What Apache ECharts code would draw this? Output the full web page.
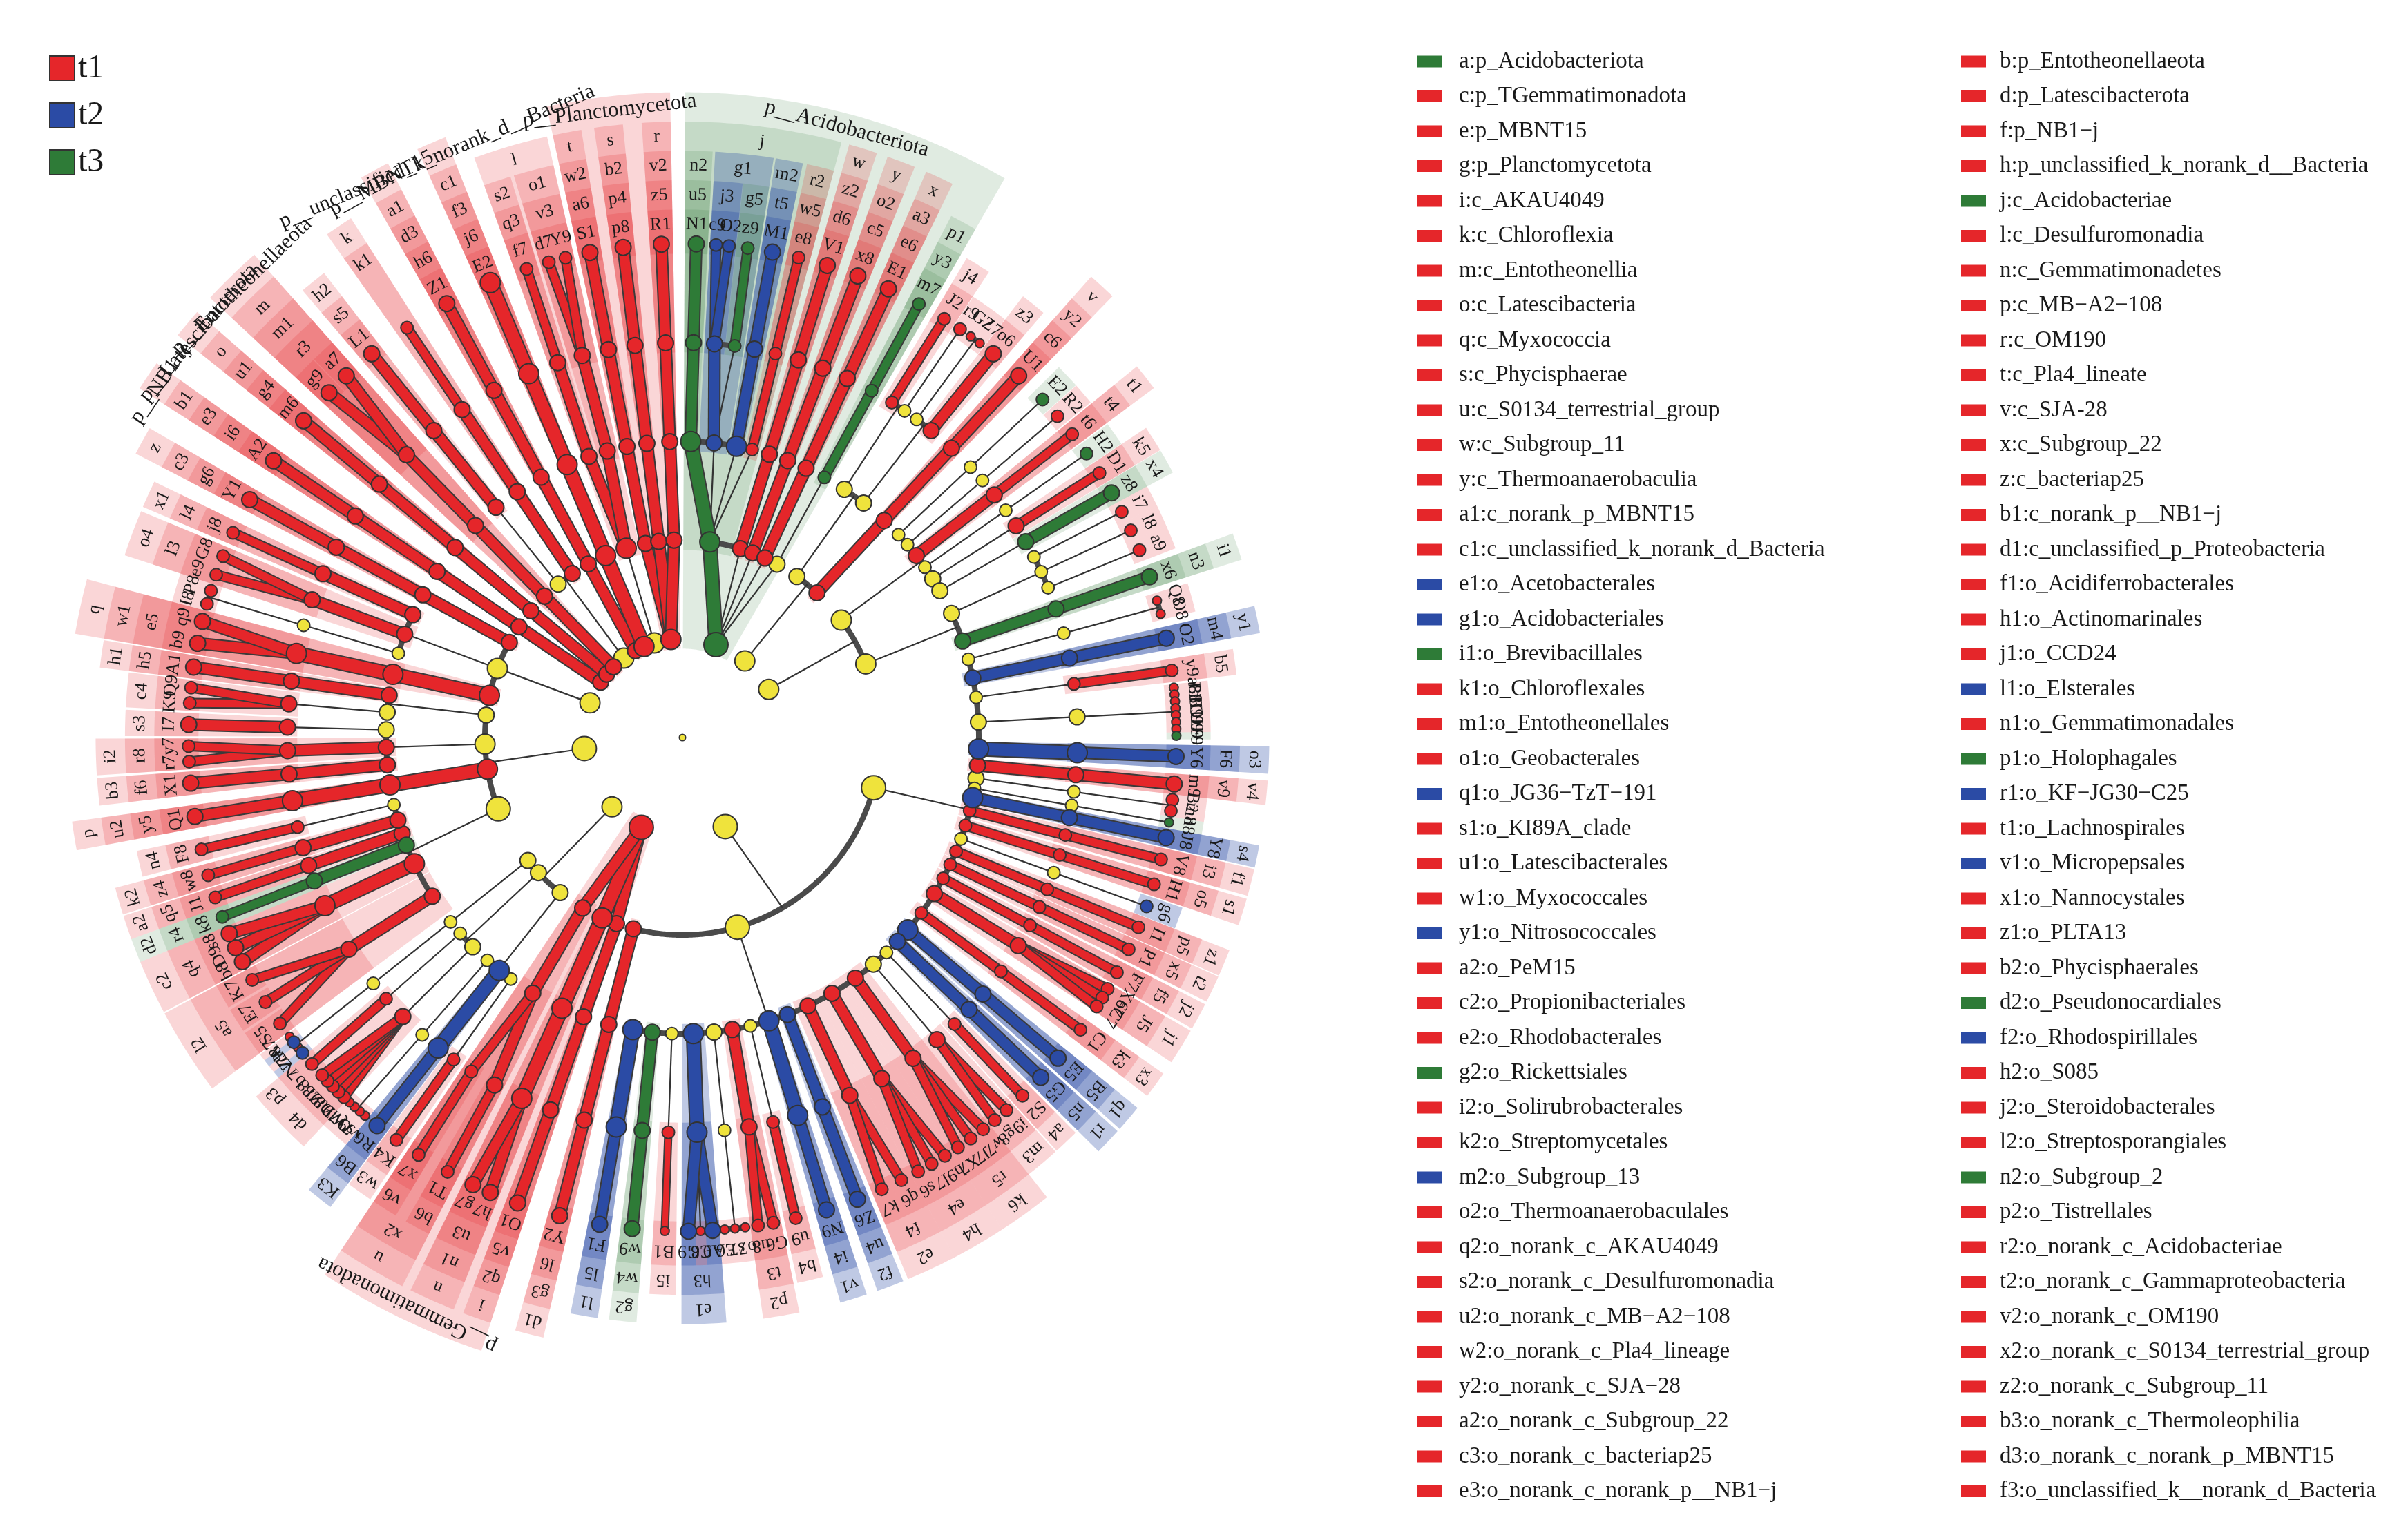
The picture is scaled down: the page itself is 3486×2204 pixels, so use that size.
<!DOCTYPE html>
<html><head><meta charset="utf-8">
<script src="https://cdn.jsdelivr.net/npm/echarts/dist/echarts.min.js"></script>
<style>html,body{margin:0;padding:0;background:#fff}#c{width:3486px;height:2204px}</style>
</head><body><div id="c"></div>
<script>
// ---------------- DATA ----------------
// groups: 0 = not significant, 1 = t1, 2 = t2, 3 = t3
const groupNames = ['ns', 't1', 't2', 't3'];
// cladogram, depth-first: [level, group, label, abundance class, taxa count (tips only)]
const tree = [
 [1,3,'p__Acidobacteriota',5],
  [2,3,'j',4],
   [3,3,'n2',4],[4,3,'u5',3],[5,3,'N1',3,3.2],
   [3,2,'g1',3],[4,2,'j3',3],[5,2,'c9',2,1.4],[5,2,'O2',2,1.6],[4,3,'g5',2],[5,3,'z9',2,2.8],
   [3,2,'m2',4],[4,2,'t5',3],[5,2,'M1',3,3.0],
   [3,1,'r2',2],[4,1,'w5',2],[5,1,'e8',2,3.2],
  [2,1,'w',3],[3,1,'z2',3],[4,1,'d6',3],[5,1,'V1',3,3.7],
  [2,1,'y',3],[3,1,'o2',3],[4,1,'c5',3],[5,1,'x8',3,3.8],
  [2,1,'x',3],[3,1,'a3',3],[4,1,'e6',3],[5,1,'E1',3,3.9],
  [2,0,'',3],[3,3,'p1',2],[4,3,'y3',2],[5,3,'m7',2,4.0],
 [1,0,'',4],
  [2,0,'',3],
   [3,0,'',3],[4,1,'j4',2],[5,1,'J2',2,2.8],[4,0,'',2],[5,1,'r9',2,1.6],
   [3,0,'',3],[4,0,'',2],[5,1,'G2',1,1.4],[5,1,'Z7',1,1.2],[4,1,'z3',3],[5,1,'o6',3,2.8],
  [2,1,'v',3],[3,1,'y2',3],[4,1,'c6',3],[5,1,'U1',3,5.0],
 [1,0,'',4],
  [2,0,'',4],
   [3,0,'',2],[4,0,'',2],[5,3,'E2',2,2.8],
   [3,0,'',2],[4,0,'',2],[5,1,'R2',2,2.4],
   [3,1,'t1',3],[4,1,'t4',3],[5,1,'t6',2,3.0],
   [3,0,'',2],[4,0,'',2],[5,3,'H2',2,2.6],
   [3,0,'',3],[4,1,'k5',3],[5,1,'D1',2,2.8],
   [3,0,'',3],[4,3,'x4',3],[5,3,'z8',3,2.6],
  [2,0,'',4],
   [3,0,'',3],[4,0,'',2],[5,1,'i7',2,2.4],[4,0,'',2],[5,1,'l8',2,2.4],[4,0,'',2],[5,1,'a9',2,2.6],
   [3,3,'i1',3],[4,3,'n3',3],[5,3,'x6',3,4.0],
 [1,0,'',5],
  [2,0,'',5],
   [3,0,'',2],[4,0,'',2],[5,1,'Q8',1,1.8],[5,1,'O8',1,1.4],
   [3,2,'y1',3],[4,2,'m4',3],[5,2,'O2',3,4.4],
   [3,0,'',2],[4,1,'b5',2],[5,1,'y9',2,3.2],
   [3,0,'',3],[4,0,'',3],[5,1,'a8',1,0.8],[5,1,'B8',1,0.8],[5,1,'i8',1,0.8],[5,1,'H9',1,0.8],[5,1,'C9',1,0.8],[5,1,'U9',1,0.8],[5,1,'L9',1,0.8],[5,3,'F9',1,0.8],
   [3,2,'o3',4],[4,2,'F6',4],[5,2,'Y6',3,4.0],
   [3,1,'v4',3],[4,1,'v9',3],[5,1,'m9',3,2.4],
   [3,0,'',3],[4,0,'',2],[5,1,'B2',2,1.3],[5,1,'m8',2,1.3],
   [3,0,'',2],[4,0,'',2],[5,3,'n8',1,1.4],
   [3,2,'s4',4],[4,2,'Y8',3],[5,2,'J8',3,2.2],
   [3,1,'f1',2],[4,1,'i3',2],[5,1,'V8',2,3.0],
   [3,1,'s1',2],[4,1,'o5',2],[5,1,'H1',2,3.0],
   [3,0,'',2],[4,0,'',2],[5,2,'g6',2,2.4],
   [3,1,'z1',2],[4,1,'p5',2],[5,1,'I1',2,2.8],
   [3,1,'t2',2],[4,1,'x5',2],[5,1,'P1',2,2.8],
   [3,1,'j2',2],[4,1,'f5',2],[5,1,'F7',2,3.2],
   [3,1,'j1',3],[4,1,'J5',3],[5,1,'X6',2,1.2],[5,1,'e7',2,1.2],[5,1,'C7',2,1.2],
   [3,1,'x3',2],[4,1,'k3',2],[5,1,'C1',2,5.4],
   [3,2,'q1',4],[4,2,'B5',3],[5,2,'E5',3,3.0],
   [3,2,'r1',3],[4,2,'n5',3],[5,2,'G5',3,3.0],
  [2,0,'',5],
   [3,0,'',2],[4,1,'a4',2],[5,1,'S2',2,3.0],
   [3,0,'',3],[4,1,'m3',3],[5,1,'i9',2,2.0],[5,1,'g8',2,1.6],
   [3,1,'k6',3],[4,1,'r5',3],[5,1,'w7',2,1.8],[5,1,'J7',2,1.8],[5,1,'X7',2,1.8],
   [3,1,'h4',3],[4,1,'e4',3],[5,1,'h9',2,1.8],[5,1,'l7',2,1.8],[5,1,'s6',2,1.8],
   [3,1,'e2',3],[4,1,'f4',3],[5,1,'q6',2,2.6],[5,1,'k7',2,2.4],
   [3,2,'f2',3],[4,2,'u4',3],[5,2,'Z6',3,3.7],
   [3,2,'v1',4],[4,2,'i4',4],[5,2,'N9',3,3.9],
   [3,0,'',2],[4,1,'b4',2],[5,1,'u9',2,3.5],
   [3,1,'p2',3],[4,1,'t3',3],[5,1,'G6',2,1.8],[5,1,'u8',2,1.8],
   [3,0,'',3],[4,0,'',2],[5,1,'o7',1,1.2],[5,1,'s7',1,1.2],[5,1,'E6',1,1.2],
   [3,2,'e1',4],[4,2,'h3',4],[5,2,'A9',3,1.6],[5,1,'C8',1,1.2],[5,2,'G9',3,1.6],
   [3,0,'',2],[4,1,'i5',2],[5,1,'B1',1,3.9],
   [3,3,'g2',3],[4,3,'w4',3],[5,3,'w9',3,3.7],
   [3,2,'l1',4],[4,2,'l5',4],[5,2,'F1',3,3.9],
  [2,1,'d1',3],[3,1,'g3',3],[4,1,'l6',3],[5,1,'Y2',3,5.6],
 [1,1,'p__Gemmatimonadota',5],
  [2,1,'i',3],[3,1,'q2',3],[4,1,'v5',3],[5,1,'O1',3,4.6],
  [2,1,'n',4],[3,1,'n1',4],[4,1,'u3',4],[5,1,'h7',3,2.2],[5,1,'g7',3,2.2],
  [2,1,'u',3],[3,1,'x2',3],[4,1,'b6',3],[5,1,'T1',2,4.4],[4,1,'v6',2],[5,1,'x7',2,3.4],
 [1,0,'',4],
  [2,0,'',3],
   [3,0,'',2],[4,1,'w3',2],[5,1,'K4',2,2.8],
   [3,2,'K3',4],[4,2,'B6',4],[5,2,'R6',3,2.8],
   [3,0,'',2],[4,0,'',2],[5,1,'v7',1,0.8],[5,1,'s9',1,0.8],[5,1,'Q7',1,0.8],[5,1,'W7',1,0.8],
  [2,0,'',3],
   [3,0,'',3],[4,1,'d4',3],[5,1,'l9',2,0.9],[5,1,'D8',2,0.9],[5,1,'J9',2,0.9],[5,1,'Z8',2,0.9],[5,1,'T8',2,0.9],
   [3,0,'',2],[4,1,'p3',2],[5,1,'b7',2,2.6],
  [2,0,'',3],
   [3,0,'',2],[4,0,'',2],[5,2,'N7',2,0.8],[5,1,'Z9',1,0.8],[5,2,'d8',2,0.8],[5,1,'A7',1,0.8],
 [1,0,'',5],
  [2,0,'',5],
   [3,1,'l2',3],[4,1,'a5',3],[5,1,'S5',2,3.0],[5,1,'E7',2,3.0],[5,1,'K7',2,3.0],
   [3,1,'c2',4],[4,1,'q4',4],[5,1,'b8',3,1.8],[5,1,'D9',3,1.8],[5,1,'s8',3,1.8],
   [3,3,'d2',3],[4,3,'r4',3],[5,3,'k8',2,2.4],
   [3,1,'a2',3],[4,1,'q5',3],[5,1,'J1',2,2.4],
   [3,1,'k2',3],[4,1,'z4',3],[5,1,'w8',2,3.0],
   [3,0,'',2],[4,1,'n4',2],[5,1,'F8',2,3.2],
  [2,1,'p',4],[3,1,'u2',4],[4,1,'y5',4],[5,1,'Q1',3,4.6],
  [2,0,'',4],
   [3,1,'b3',3],[4,1,'f6',3],[5,1,'X1',3,3.2],
   [3,1,'i2',3],[4,1,'r8',3],[5,1,'r7',2,1.8],[5,1,'y7',2,1.8],
   [3,0,'',3],[4,1,'s3',3],[5,1,'I7',3,3.2],
  [2,0,'',3],
   [3,0,'',3],[4,1,'c4',3],[5,1,'K9',2,1.8],[5,1,'Q9',2,1.8],
   [3,1,'h1',3],[4,1,'h5',3],[5,1,'A1',3,3.0],
 [1,0,'',4],
  [2,1,'q',4],[3,1,'w1',4],[4,1,'e5',4],[5,1,'b9',3,2.6],[5,1,'q9',3,2.6],
  [2,0,'',4],
   [3,0,'',2],[4,0,'',2],[5,1,'I8',2,1.6],[5,1,'P8',2,1.6],
   [3,1,'o4',3],[4,1,'l3',3],[5,1,'e9',2,2.3],[5,1,'G8',2,2.3],
   [3,1,'x1',3],[4,1,'l4',3],[5,1,'j8',2,3.6],
  [2,1,'z',3],[3,1,'c3',3],[4,1,'g6',3],[5,1,'Y1',3,5.0],
 [1,1,'p__NB1−j',3],[2,1,'b1',3],[3,1,'e3',3],[4,1,'i6',3],[5,1,'A2',3,5.6],
 [1,1,'p__Latescibacterota',3],[2,1,'o',3],[3,1,'u1',3],[4,1,'g4',3],[5,1,'m6',3,6.0],
 [1,1,'p__Entotheonellaeota',3],[2,1,'m',3],[3,1,'m1',3],[4,1,'r3',3],[5,1,'g9',3,2.8],[5,1,'a7',3,2.8],
 [1,0,'',4],
  [2,0,'',3],[3,1,'h2',3],[4,1,'s5',3],[5,1,'L1',3,5.0],
  [2,1,'k',3],[3,1,'k1',3],[4,1,'',3],[5,1,'',2,5.2],
 [1,1,'p__MBNT15',3],[2,1,'a1',3],[3,1,'d3',3],[4,1,'h6',3],[5,1,'Z1',3,5.6],
 [1,1,'p__unclassified_k_norank_d__Bacteria',4],[2,1,'c1',4],[3,1,'f3',4],[4,1,'j6',4],[5,1,'E2',4,5.6],
 [1,0,'',4],
  [2,1,'l',4],
   [3,1,'s2',3],[4,1,'q3',3],[5,1,'f7',2,3.4],
   [3,1,'o1',3],[4,1,'v3',3],[5,1,'d7',2,2.0],[5,1,'Y9',2,2.0],
 [1,1,'p__Planctomycetota',4],
  [2,1,'t',3],[3,1,'w2',3],[4,1,'a6',3],[5,1,'S1',3,3.8],
  [2,1,'s',3],[3,1,'b2',3],[4,1,'p4',3],[5,1,'p8',3,4.0],
  [2,1,'r',3],[3,1,'v2',3],[4,1,'z5',3],[5,1,'R1',3,4.9]
];

// legend (right side), two columns
const legendLeftCodes = ['a','c','e','g','i','k','m','o','q','s','u','w','y','a1','c1','e1','g1','i1','k1','m1','o1','q1','s1','u1','w1','y1','a2','c2','e2','g2','i2','k2','m2','o2','q2','s2','u2','w2','y2','a2','c3','e3'];
const legendLeftNames = ['p_Acidobacteriota','p_TGemmatimonadota','p_MBNT15','p_Planctomycetota','c_AKAU4049','c_Chloroflexia','c_Entotheonellia','c_Latescibacteria','c_Myxococcia','c_Phycisphaerae','c_S0134_terrestrial_group','c_Subgroup_11','c_Thermoanaerobaculia','c_norank_p_MBNT15','c_unclassified_k_norank_d_Bacteria','o_Acetobacterales','o_Acidobacteriales','o_Brevibacillales','o_Chloroflexales','o_Entotheonellales','o_Geobacterales','o_JG36−TzT−191','o_KI89A_clade','o_Latescibacterales','o_Myxococcales','o_Nitrosococcales','o_PeM15','o_Propionibacteriales','o_Rhodobacterales','o_Rickettsiales','o_Solirubrobacterales','o_Streptomycetales','o_Subgroup_13','o_Thermoanaerobaculales','o_norank_c_AKAU4049','o_norank_c_Desulfuromonadia','o_norank_c_MB−A2−108','o_norank_c_Pla4_lineage','o_norank_c_SJA−28','o_norank_c_Subgroup_22','o_norank_c_bacteriap25','o_norank_c_norank_p__NB1−j'];
const legendLeftGroups = [3,1,1,1,1,1,1,1,1,1,1,1,1,1,1,2,2,3,1,1,1,2,1,1,1,2,1,1,1,3,1,1,2,1,1,1,1,1,1,1,1,1];
const legendRightCodes = ['b','d','f','h','j','l','n','p','r','t','v','x','z','b1','d1','f1','h1','j1','l1','n1','p1','r1','t1','v1','x1','z1','b2','d2','f2','h2','j2','l2','n2','p2','r2','t2','v2','x2','z2','b3','d3','f3'];
const legendRightNames = ['p_Entotheonellaeota','p_Latescibacterota','p_NB1−j','p_unclassified_k_norank_d__Bacteria','c_Acidobacteriae','c_Desulfuromonadia','c_Gemmatimonadetes','c_MB−A2−108','c_OM190','c_Pla4_lineate','c_SJA-28','c_Subgroup_22','c_bacteriap25','c_norank_p__NB1−j','c_unclassified_p_Proteobacteria','o_Acidiferrobacterales','o_Actinomarinales','o_CCD24','o_Elsterales','o_Gemmatimonadales','o_Holophagales','o_KF−JG30−C25','o_Lachnospirales','o_Micropepsales','o_Nannocystales','o_PLTA13','o_Phycisphaerales','o_Pseudonocardiales','o_Rhodospirillales','o_S085','o_Steroidobacterales','o_Streptosporangiales','o_Subgroup_2','o_Tistrellales','o_norank_c_Acidobacteriae','o_norank_c_Gammaproteobacteria','o_norank_c_OM190','o_norank_c_S0134_terrestrial_group','o_norank_c_Subgroup_11','o_norank_c_Thermoleophilia','o_norank_c_norank_p_MBNT15','o_unclassified_k__norank_d_Bacteria'];
const legendRightGroups = [1,1,1,1,3,1,1,1,1,1,1,1,1,1,1,1,1,1,2,1,3,2,1,2,1,1,1,3,2,1,1,1,3,1,1,1,1,1,1,1,1,1];

// ---------------- STYLE ----------------
const colors = ['#EFE33C', '#E5262A', '#2B4BA5', '#2E7B37'];
const wedgeFill = ['rgba(0,0,0,0)', 'rgba(229,38,42,0.19)', 'rgba(43,75,165,0.30)', 'rgba(46,123,55,0.15)'];
const nodeSize = [9, 13, 18, 23, 29, 35];
const SERIF = '"Liberation Serif","Times New Roman",serif';
const R_MAX = 7, RING0 = 5.05, RINGW = 0.297;
const ringInner = L => RING0 + (5 - L) * RINGW;
const ringOuter = L => ringInner(L) + RINGW;

// ---------------- TREE LAYOUT ----------------
const root = { level: 0, group: 0, label: '', ab: 0, children: [] };
const nodes = tree.map(t => ({ level: t[0], group: t[1], label: t[2], ab: t[3], slot: t[4], children: [] }));
const stack = [root];
nodes.forEach(n => {
  while (stack.length > n.level) stack.pop();
  const p = stack[stack.length - 1];
  n.parent = p; p.children.push(n); stack.push(n);
});
const leaves = nodes.filter(n => n.children.length === 0);
const totalSlots = leaves.reduce((s, n) => s + n.slot, 0);
let cum = 0;
leaves.forEach(n => {
  n.slotDeg = n.slot / totalSlots * 360;
  n.angle = (cum + n.slot / 2) / totalSlots * 360;
  cum += n.slot;
});
function layout(n) {
  if (!n.children.length) { n.first = n; n.last = n; return; }
  n.children.forEach(layout);
  n.angle = n.children.reduce((s, c) => s + c.angle, 0) / n.children.length;
  n.first = n.children[0].first; n.last = n.children[n.children.length - 1].last;
}
root.children.forEach(layout);
root.angle = 0;

// marks
const wedges = [], labels = [], arcs = [], thins = [], bars = [];
nodes.forEach(n => {
  if (n.group > 0 && n.label) {
    const a0 = n.first.angle - Math.min(n.first.slotDeg / 2, 1.35);
    const a1 = n.last.angle + Math.min(n.last.slotDeg / 2, 1.35);
    wedges.push({ r0: n.level - 0.1, r1: ringOuter(n.level), a0, a1, g: n.group, L: n.level });
    labels.push({ r: ringInner(n.level) + RINGW / 2, a: (a0 + a1) / 2, text: n.label, L: n.level });
  }
  const ch = n.children;
  if (!ch.length) return;
  const sig = n.group > 0;
  const cl = ch[0].level;
  const aFirst = ch[0].angle, aLast = ch[ch.length - 1].angle;
  if (ch.length >= 2 && (!sig || ch.some(c => c.group !== n.group))) arcs.push([cl, aFirst, aLast]);
  if (!sig && ch.length >= 2) thins.push([n.level, n.angle, cl, (aFirst + aLast) / 2]);
  ch.forEach(c => {
    if (sig && c.group === n.group) bars.push([n.level, n.angle, c.level, c.angle, c.ab, c.group]);
    else if (sig || ch.length === 1) thins.push([n.level, n.angle, c.level, c.angle]);
  });
});
wedges.sort((a, b) => a.L - b.L);

// ---------------- CHART ----------------
const chart = echarts.init(document.getElementById('c'), null, { renderer: 'canvas' });
function arcPts(api, r, a0, a1) {
  const steps = Math.max(2, Math.ceil(Math.abs(a1 - a0) / 0.4));
  const pts = [];
  for (let k = 0; k <= steps; k++) pts.push(api.coord([r, a0 + (a1 - a0) * k / steps]));
  return pts;
}
const series = [];
series.push({
  type: 'custom', coordinateSystem: 'polar', z: 1, silent: true,
  encode: { radius: 0, angle: 1 },
  data: wedges.map((w, i) => [w.r0, (w.a0 + w.a1) / 2, i]),
  renderItem: (params, api) => {
    const w = wedges[api.value(2)];
    const pts = arcPts(api, w.r1, w.a0, w.a1).concat(arcPts(api, w.r0, w.a1, w.a0));
    return { type: 'polygon', shape: { points: pts }, style: { fill: wedgeFill[w.g] } };
  }
});
series.push({
  type: 'custom', coordinateSystem: 'polar', z: 2, silent: true,
  encode: { radius: 0, angle: 1 },
  data: arcs,
  renderItem: (params, api) => ({
    type: 'polyline', shape: { points: arcPts(api, api.value(0), api.value(1), api.value(2)) },
    style: { stroke: '#4a4a4a', lineWidth: 8, fill: null }
  })
});
series.push({
  type: 'custom', coordinateSystem: 'polar', z: 2, silent: true,
  encode: { radius: 0, angle: 1 },
  data: thins,
  renderItem: (params, api) => {
    const p1 = api.coord([api.value(0), api.value(1)]), p2 = api.coord([api.value(2), api.value(3)]);
    return { type: 'line', shape: { x1: p1[0], y1: p1[1], x2: p2[0], y2: p2[1] }, style: { stroke: '#333', lineWidth: 2.2 } };
  }
});
series.push({
  type: 'custom', coordinateSystem: 'polar', z: 3, silent: true,
  encode: { radius: 0, angle: 1 },
  data: bars,
  renderItem: (params, api) => {
    const p1 = api.coord([api.value(0), api.value(1)]), p2 = api.coord([api.value(2), api.value(3)]);
    const w = nodeSize[api.value(4)] * 0.62;
    const shape = { x1: p1[0], y1: p1[1], x2: p2[0], y2: p2[1] };
    return { type: 'group', children: [
      { type: 'line', shape, style: { stroke: '#3a3a3a', lineWidth: w + 4 } },
      { type: 'line', shape, style: { stroke: colors[api.value(5)], lineWidth: w } }
    ] };
  }
});
[0, 1, 2, 3].forEach(g => {
  const data = nodes.filter(n => n.group === g).map(n => [n.level, n.angle, n.ab]);
  if (g === 0) data.unshift([0, 0, 0]);
  series.push({
    type: 'scatter', coordinateSystem: 'polar', name: groupNames[g], z: 4, silent: true,
    data, symbolSize: v => nodeSize[v[2]],
    itemStyle: { color: colors[g], borderColor: '#333', borderWidth: 2, opacity: 1 }
  });
});
series.push({
  type: 'custom', coordinateSystem: 'polar', z: 5, silent: true,
  encode: { radius: 0, angle: 1 },
  data: labels.map((l, i) => [l.r, l.a, i]),
  renderItem: (params, api) => {
    const l = labels[api.value(2)];
    const p = api.coord([l.r, l.a]);
    return { type: 'text', x: p[0], y: p[1], rotation: -l.a * Math.PI / 180,
      style: { text: l.text, fill: '#1a1a1a', font: (l.L === 1 ? '31px ' : '26px ') + SERIF, align: 'center', verticalAlign: 'middle' } };
  }
});

const graphics = [];
function addLegendColumn(codes, names, groups, rx, tx) {
  codes.forEach((c, i) => {
    const y = 89 + i * 50.5;
    graphics.push({ type: 'rect', shape: { x: rx, y: y - 8.5, width: 36, height: 17 }, style: { fill: colors[groups[i]] } });
    graphics.push({ type: 'text', x: tx, y: y, style: { text: c + ':' + names[i], font: '33px ' + SERIF, fill: '#1a1a1a', verticalAlign: 'middle', align: 'left' } });
  });
}
addLegendColumn(legendLeftCodes, legendLeftNames, legendLeftGroups, 2052, 2112);
addLegendColumn(legendRightCodes, legendRightNames, legendRightGroups, 2839, 2895);

chart.setOption({
  animation: false,
  backgroundColor: '#ffffff',
  polar: { center: [988, 1068], radius: 1001 },
  angleAxis: { type: 'value', min: 0, max: 360, startAngle: 90, clockwise: true, show: false },
  radiusAxis: { type: 'value', min: 0, max: R_MAX, show: false },
  legend: { data: ['t1', 't2', 't3'], orient: 'vertical', left: 66, top: 70, itemWidth: 36, itemHeight: 36, itemGap: 20,
    icon: 'rect', selectedMode: false, textStyle: { fontSize: 48, fontFamily: SERIF, color: '#1a1a1a' } },
  graphic: { elements: graphics },
  series
});
</script>
</body></html>
